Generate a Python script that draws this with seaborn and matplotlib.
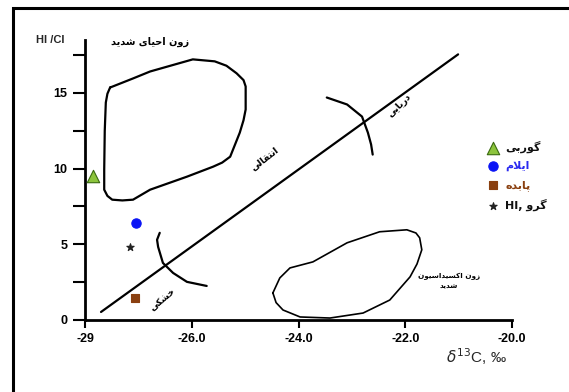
import matplotlib
matplotlib.use("Agg")
import matplotlib.pyplot as plt
from matplotlib.patches import Rectangle
import seaborn as sns

# ---- data -------------------------------------------------------------
x_ticks = [-28, -26, -24, -22, -20]
x_tick_labels = ["-29", "-26.0", "-24.0", "-22.0", "-20.0"]
y_major = [0, 5, 10, 15]
y_minor = [2.5, 7.5, 12.5, 17.5]

formations = ["گوربی", "ایلام", "پابده", "گرو"]
form_d13c = [-27.85, -27.05, -27.06, -27.16]
form_hi_cl = [9.5, 6.4, 1.45, 4.8]
form_colors = ["#8cc43c", "#0a14f5", "#8a4010", "#222222"]
form_text_colors = ["#111111", "#2a2af0", "#8a4010", "#111111"]
form_markers = ["^", "o", "s", "*"]
form_sizes = [80, 45, 40, 30]

# marine / terrestrial trend line
trend_x = [-27.70, -21.01]
trend_y = [0.53, 17.55]

# zone of strong reduction (closed outline)
reduct_x = [-27.53, -27.10, -26.78, -26.40, -25.98, -25.57, -25.35, -25.16,
            -25.03, -24.99, -24.99, -25.03, -25.10, -25.28, -25.43, -25.60,
            -26.09, -26.78, -27.10, -27.30, -27.49, -27.58, -27.64, -27.64,
            -27.63, -27.61, -27.58, -27.53]
reduct_y = [15.36, 15.96, 16.42, 16.80, 17.22, 17.09, 16.80, 16.30,
            15.85, 15.43, 13.91, 13.20, 12.38, 10.79, 10.40, 10.13,
            9.47, 8.61, 7.95, 7.90, 7.95, 8.20, 8.61, 9.93,
            12.50, 14.37, 14.95, 15.36]

# zone of strong oxidation (closed outline)
oxid_x = [-24.48, -24.35, -24.16, -23.73, -23.09, -22.48, -21.97, -21.80,
          -21.73, -21.69, -21.78, -21.91, -22.29, -22.79, -23.41, -23.97,
          -24.29, -24.42, -24.48]
oxid_y = [1.79, 2.78, 3.44, 3.84, 5.10, 5.83, 5.96, 5.75,
          5.43, 4.64, 3.70, 2.85, 1.32, 0.46, 0.13, 0.20,
          0.66, 1.15, 1.79]

# boundary arcs across the trend line
arc_low_x = [-26.60, -26.65, -26.63, -26.54, -26.35, -26.09, -25.72]
arc_low_y = [5.76, 5.30, 4.83, 3.77, 3.11, 2.52, 2.25]
arc_high_x = [-23.47, -23.09, -22.81, -22.70, -22.64, -22.61]
arc_high_y = [14.70, 14.24, 13.44, 12.38, 11.60, 10.93]

# ---- Persian shaping (matplotlib draws glyphs left to right, unjoined) --
FORMS = {
    "ا": ("\uFE8D", "\uFE8E"), "ب": ("\uFE8F", "\uFE90", "\uFE91", "\uFE92"),
    "پ": ("\uFB56", "\uFB57", "\uFB58", "\uFB59"),
    "ت": ("\uFE95", "\uFE96", "\uFE97", "\uFE98"),
    "ح": ("\uFEA1", "\uFEA2", "\uFEA3", "\uFEA4"),
    "خ": ("\uFEA5", "\uFEA6", "\uFEA7", "\uFEA8"),
    "د": ("\uFEA9", "\uFEAA"), "ر": ("\uFEAD", "\uFEAE"), "ز": ("\uFEAF", "\uFEB0"),
    "س": ("\uFEB1", "\uFEB2", "\uFEB3", "\uFEB4"),
    "ش": ("\uFEB5", "\uFEB6", "\uFEB7", "\uFEB8"),
    "ق": ("\uFED5", "\uFED6", "\uFED7", "\uFED8"),
    "ک": ("\uFB8E", "\uFB8F", "\uFB90", "\uFB91"),
    "گ": ("\uFB92", "\uFB93", "\uFB94", "\uFB95"),
    "ل": ("\uFEDD", "\uFEDE", "\uFEDF", "\uFEE0"),
    "م": ("\uFEE1", "\uFEE2", "\uFEE3", "\uFEE4"),
    "ن": ("\uFEE5", "\uFEE6", "\uFEE7", "\uFEE8"),
    "و": ("\uFEED", "\uFEEE"),
    "ه": ("\uFEE9", "\uFEEA", "\uFEEB", "\uFEEC"),
    "ی": ("\uFBFC", "\uFBFD", "\uFBFE", "\uFBFF"),
}


def fa(text):
    out = []
    i = 0
    n = len(text)
    while i < n:
        c = text[i]
        if c not in FORMS:
            out.append(c)
            i += 1
            continue
        prev = text[i - 1] if i > 0 else None
        nxt = text[i + 1] if i + 1 < n else None
        join_prev = prev in FORMS and len(FORMS[prev]) == 4
        if c == "ل" and nxt == "ا":
            out.append("\uFEFC" if join_prev else "\uFEFB")
            i += 2
            continue
        f = FORMS[c]
        join_next = len(f) == 4 and nxt in FORMS
        if join_prev and join_next:
            out.append(f[3])
        elif join_prev:
            out.append(f[1])
        elif join_next:
            out.append(f[2])
        else:
            out.append(f[0])
        i += 1
    return "".join(reversed(out))


FA_FONT = ["DejaVu Sans"]

# ---- figure -----------------------------------------------------------
sns.set_style("white")
plt.rcParams["font.family"] = ["Liberation Sans", "DejaVu Sans"]

fig = plt.figure(figsize=(5.69, 3.92), dpi=100)
ax = fig.add_axes([85 / 569, 72 / 392, 427 / 569, 280 / 392])

line_kw = dict(color="black", linewidth=1.6, sort=False, estimator=None,
               legend=False, solid_joinstyle="round", solid_capstyle="round")
sns.lineplot(x=trend_x, y=trend_y, ax=ax, **line_kw)
sns.lineplot(x=reduct_x, y=reduct_y, ax=ax, **line_kw)
sns.lineplot(x=oxid_x, y=oxid_y, ax=ax, color="black", linewidth=1.2,
             sort=False, estimator=None, legend=False, solid_joinstyle="round")
sns.lineplot(x=arc_low_x, y=arc_low_y, ax=ax, **line_kw)
sns.lineplot(x=arc_high_x, y=arc_high_y, ax=ax, **line_kw)

legend_labels = [fa(formations[0]), fa(formations[1]), fa(formations[2]),
                 "HI, " + fa(formations[3])]
for xv, yv, col, mk, sz, lab in zip(form_d13c, form_hi_cl, form_colors,
                                    form_markers, form_sizes, legend_labels):
    edge = "#3a6a10" if mk == "^" else col
    sns.scatterplot(x=[xv], y=[yv], ax=ax, color=col, marker=mk, s=sz,
                    edgecolor=edge, linewidth=0.8, label=lab, zorder=5)

ax.set_xlim(-28, -20)
ax.set_ylim(0, 18.5)
ax.set_xticks(x_ticks)
ax.set_xticklabels(x_tick_labels, fontsize=9, fontweight="bold")
ax.set_yticks(y_major)
ax.set_yticklabels([str(v) for v in y_major], fontsize=9, fontweight="bold")
ax.set_yticks(y_minor, minor=True)
ax.set_xlabel("")
ax.set_ylabel("")
for side in ("top", "right"):
    ax.spines[side].set_visible(False)
for side in ("left", "bottom"):
    ax.spines[side].set_linewidth(2)
    ax.spines[side].set_color("black")
ax.tick_params(axis="y", which="both", direction="out", length=8.5, width=1.5,
               pad=4, left=True, colors="black")
ax.tick_params(axis="x", which="major", direction="out", length=6, width=1.5,
               pad=3, bottom=True, colors="black")

# zone and trend annotations
txt_kw = dict(family=FA_FONT, fontweight="bold", color="black")
ax.text(-26.78, 18.4, fa("زون احیای شدید"), fontsize=7, ha="center", va="center", **txt_kw)
ax.text(-24.62, 10.6, fa("انتقالی"), fontsize=6.5, rotation=38, ha="center",
        va="center", **txt_kw)
ax.text(-22.1, 14.2, fa("دریایی"), fontsize=6.5, rotation=45, ha="center",
        va="center", **txt_kw)
ax.text(-26.55, 1.35, fa("خشکی"), fontsize=6.5, rotation=40, ha="center",
        va="center", **txt_kw)
ax.text(-21.18, 2.6, fa("زون اکسیداسیون") + "\n" + fa("شدید"), fontsize=5.2,
        ha="center", va="center", linespacing=1.6, **txt_kw)

leg = ax.legend(loc="upper left", bbox_to_anchor=(482 / 569, 1 - 135 / 392),
                bbox_transform=fig.transFigure, frameon=False,
                handletextpad=0.6, labelspacing=0.75, borderpad=0,
                handlelength=1.0, prop={"family": FA_FONT, "weight": "bold", "size": 8})
for t, c in zip(leg.get_texts(), form_text_colors):
    t.set_color(c)

# axis titles
fig.text(50 / 569, 1 - 40 / 392, "HI /CI", fontsize=8, fontweight="bold",
         ha="center", va="center")
fig.text(476 / 569, 1 - 357 / 392, r"$\delta^{13}$C, ‰", fontsize=11,
         ha="center", va="center")

# outer frame
fig.patches.append(Rectangle((13 / 569, -0.05), 1.1, 1 - 8 / 392 + 0.05,
                             transform=fig.transFigure, fill=False,
                             edgecolor="black", linewidth=2.2))

fig.savefig("out.png", dpi=100)
